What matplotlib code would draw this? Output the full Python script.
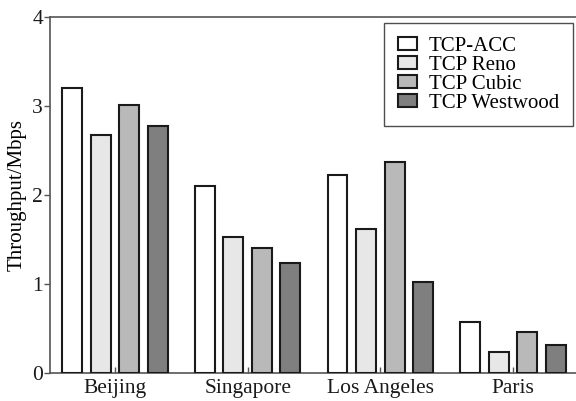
import numpy as np
import matplotlib
matplotlib.use("Agg")
import matplotlib.pyplot as plt

plt.rcParams["font.family"] = ["Liberation Serif", "DejaVu Serif"]

cities = ["Beijing", "Singapore", "Los Angeles", "Paris"]
series = ["TCP-ACC", "TCP Reno", "TCP Cubic", "TCP Westwood"]
acc = [3.20, 2.10, 2.23, 0.57]
reno = [2.67, 1.53, 1.62, 0.24]
cubic = [3.01, 1.41, 2.37, 0.46]
westwood = [2.78, 1.24, 1.02, 0.32]
colors = ["#ffffff", "#e6e7e6", "#b9b9b9", "#7f7f7f"]

fig = plt.figure(figsize=(5.76, 4.01), dpi=100)
ax = fig.add_axes([50 / 576, 28 / 401, 526 / 576, 356 / 401])

x = np.arange(len(cities))
step = 0.215
width = 0.15
for i, (name, vals) in enumerate(zip(series, [acc, reno, cubic, westwood])):
    ax.bar(x + (i - 1.5) * step, vals, width, color=colors[i],
           edgecolor="#1a1a1a", linewidth=1.5, label=name, zorder=3)

ax.set_xlim(-0.49, 3.475)
ax.set_ylim(0, 4)
ax.set_yticks([0, 1, 2, 3, 4])
ax.set_xticks(x)
ax.set_xticklabels(cities)
ax.set_ylabel("Throughput/Mbps", fontsize=15, labelpad=4)
ax.tick_params(axis="x", direction="in", length=4, width=1, color="#555555",
               labelsize=15.5, pad=4, labelcolor="#1a1a1a")
ax.tick_params(axis="y", direction="out", length=4, width=1, color="#555555",
               labelsize=15.5, pad=1, labelcolor="#1a1a1a")
for s in ["left", "top", "bottom"]:
    ax.spines[s].set_color("#555555")
    ax.spines[s].set_linewidth(1.2)
ax.spines["right"].set_visible(False)

leg = ax.legend(loc="upper right", bbox_to_anchor=(0.994, 0.982), fontsize=15,
                frameon=True, fancybox=False, edgecolor="#222222",
                handlelength=0.9, handleheight=0.6, handletextpad=0.6,
                labelspacing=0.0, borderpad=0.65, borderaxespad=0)
leg.get_frame().set_linewidth(1.0)

fig.savefig("out.png", dpi=100)
